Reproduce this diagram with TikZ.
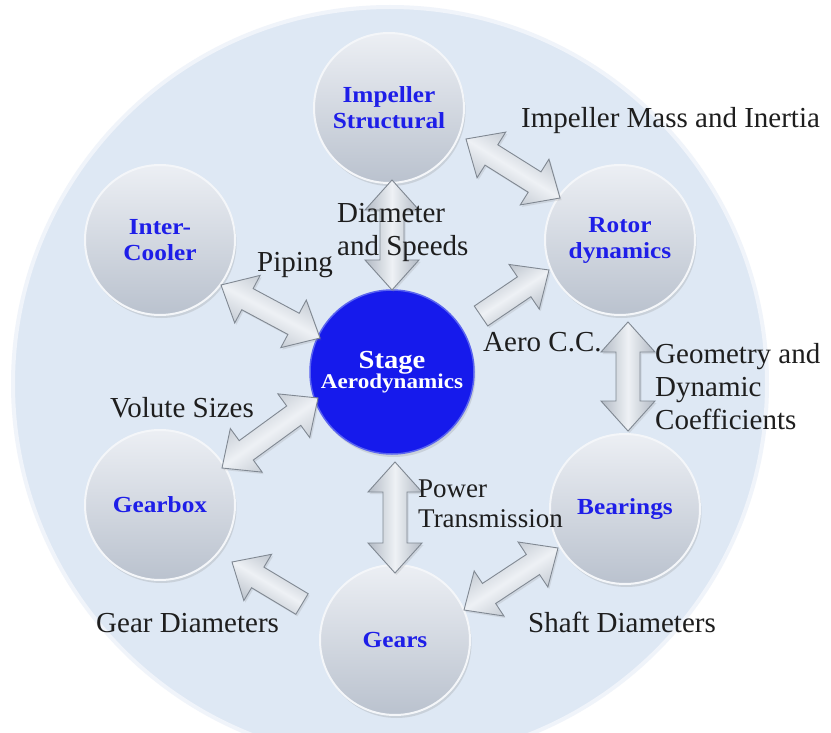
\documentclass[tikz,border=0pt]{standalone}
\usepackage{fontspec}
\setmainfont{Liberation Serif}
\newfontfamily\lblfont[FakeStretch=1.1]{Liberation Serif}
\usetikzlibrary{calc,shadows}
\definecolor{discfill}{RGB}{222,232,244}
\definecolor{discrim}{RGB}{240,244,250}
\definecolor{balltop}{RGB}{236,239,244}
\definecolor{ballbot}{RGB}{186,194,206}
\definecolor{ballrim}{RGB}{244,246,249}
\definecolor{lblblue}{RGB}{30,30,232}
\definecolor{stageblue}{RGB}{22,26,236}
\definecolor{stagerim}{RGB}{90,100,240}
\definecolor{arredge}{RGB}{128,136,146}
\definecolor{arrside}{RGB}{178,186,196}
\definecolor{arrmid}{RGB}{238,241,245}
\definecolor{txt}{RGB}{30,30,30}
\newcommand{\arrL}{30pt}
\newcommand{\arrW}{27pt}
\newcommand{\arrw}{12pt}
\newcommand{\dblarr}[3]{%
  \path[arr,shading angle=#3] (#1)
   -- ($(#1)!\arrL!(#2)!\arrW!90:(#2)$)
   -- ($(#1)!\arrL!(#2)!\arrw!90:(#2)$)
   -- ($(#2)!\arrL!(#1)!\arrw!-90:(#1)$)
   -- ($(#2)!\arrL!(#1)!\arrW!-90:(#1)$)
   -- (#2)
   -- ($(#2)!\arrL!(#1)!\arrW!90:(#1)$)
   -- ($(#2)!\arrL!(#1)!\arrw!90:(#1)$)
   -- ($(#1)!\arrL!(#2)!\arrw!-90:(#2)$)
   -- ($(#1)!\arrL!(#2)!\arrW!-90:(#2)$)
   -- cycle;}
\newcommand{\sglarr}[3]{%
  \path[arr,shading angle=#3] ($(#1)!\arrw!90:(#2)$)
   -- ($(#2)!\arrL!(#1)!\arrw!-90:(#1)$)
   -- ($(#2)!\arrL!(#1)!\arrW!-90:(#1)$)
   -- (#2)
   -- ($(#2)!\arrL!(#1)!\arrW!90:(#1)$)
   -- ($(#2)!\arrL!(#1)!\arrw!90:(#1)$)
   -- ($(#1)!\arrw!-90:(#2)$)
   -- cycle;}
\begin{document}
\begin{tikzpicture}[x=1pt,y=-1pt,
  disc/.style={fill=discfill, draw=discrim, line width=4pt},
  ball/.style={circle, minimum size=150pt, inner sep=0pt,
    top color=balltop, bottom color=ballbot, draw=ballrim, line width=2pt,
    drop shadow={opacity=0.22, shadow xshift=1.5pt, shadow yshift=-3pt},
    font=\lblfont\bfseries\fontsize{23}{26}\selectfont, text=lblblue, align=center},
  stagenode/.style={circle, minimum size=164pt, inner sep=0pt,
    fill=stageblue, draw=stagerim, line width=1.5pt,
    drop shadow={opacity=0.22, shadow xshift=1.5pt, shadow yshift=-3pt},
    text=white, align=center},
  arr/.style={draw=arredge, line width=0.9pt, top color=arrside, bottom color=arrside,
    middle color=arrmid,
    drop shadow={opacity=0.18, shadow xshift=1.5pt, shadow yshift=-2pt}},
  lbl/.style={anchor=base west, inner sep=0pt, align=left, text=txt,
    font=\fontsize{29}{33}\selectfont}
]
\useasboundingbox (0,0) rectangle (831,733);
\clip (0,0) rectangle (831,733);
\fill[white] (0,0) rectangle (831,733);
\path[disc] (390,384) circle[radius=377];

% nodes
\node[ball] (imp) at (389,108) {Impeller\\Structural};
\node[ball] (rot) at (620,240) {Rotor\\dynamics};
\node[ball] (ic)  at (160,240) {Inter-\\Cooler};
\node[ball] (gb)  at (160,505) {Gearbox};
\node[ball] (br)  at (625,509) {Bearings};
\node[ball] (gr)  at (395,640) {Gears};
\node[stagenode] (stage) at (392,372)
  {{\lblfont\bfseries\fontsize{26}{28}\selectfont Stage}\\[-1pt]
   {\lblfont\bfseries\fontsize{21}{28}\selectfont Aerodynamics}};

% arrow end points
\coordinate (a1s) at (392,180); \coordinate (a1e) at (392,290);
\coordinate (a2s) at (466,139); \coordinate (a2e) at (560,198);
\coordinate (a3s) at (221,285); \coordinate (a3e) at (320,338);
\coordinate (a4s) at (481,316); \coordinate (a4e) at (549,270);
\coordinate (a5s) at (628,322); \coordinate (a5e) at (628,431);
\coordinate (a6s) at (318,398); \coordinate (a6e) at (222,468);
\coordinate (a7s) at (395,462); \coordinate (a7e) at (395,573);
\coordinate (a8s) at (302,604); \coordinate (a8e) at (232,562);
\coordinate (a9s) at (464,610); \coordinate (a9e) at (558,548);

\dblarr{a1s}{a1e}{90}
\dblarr{a2s}{a2e}{-32}
\dblarr{a3s}{a3e}{-28}
\sglarr{a4s}{a4e}{33}
\dblarr{a5s}{a5e}{90}
\dblarr{a6s}{a6e}{35}
\dblarr{a7s}{a7e}{90}
\sglarr{a8s}{a8e}{-31}
\dblarr{a9s}{a9e}{33}

% labels (base = baseline of the last line)
\node[lbl] (t1) at (521,128) {Impeller Mass and Inertia};
\node[lbl] (t2) at (337,256) {Diameter\\and Speeds};
\node[lbl] (t3) at (257,272) {Piping};
\node[lbl] (t4) at (483,351) {Aero C.C.};
\node[lbl] (t5) at (655,429) {Geometry and\\Dynamic\\Coefficients};
\node[lbl] (t6) at (110,417) {Volute Sizes};
\node[lbl, font=\fontsize{27}{30}\selectfont] (t7) at (418,527) {Power\\Transmission};
\node[lbl] (t8) at (96,632) {Gear Diameters};
\node[lbl] (t9) at (528,632) {Shaft Diameters};
\end{tikzpicture}
\end{document}
